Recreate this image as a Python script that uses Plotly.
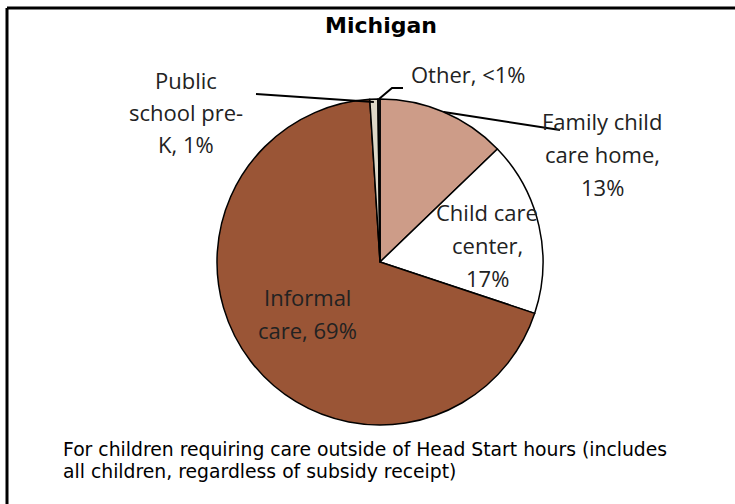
import math
import plotly.graph_objects as go

# ---- data ----
categories = ["Family child care home", "Child care center", "Informal care",
              "Public school pre-K", "Other"]
shares = [12.8, 17.3, 68.9, 0.8, 0.2]
label_lines = {
    "Family child care home": ["Family child", "care home,", "13%"],
    "Child care center": ["Child care", "center,", "17%"],
    "Informal care": ["Informal", "care, 69%"],
    "Public school pre-K": ["Public", "school pre-", "K, 1%"],
    "Other": ["Other, <1%"],
}
colors = ["#CD9C88", "#FFFFFF", "#9A5536", "#DDD7C7", "#3A3A3A"]
title_text = "Michigan"
note_lines = ["For children requiring care outside of Head Start hours (includes",
              "all children, regardless of subsidy receipt)"]

W, H = 735, 504
CX, CY, R = 380, 262, 163  # pie center / radius in pixels


def px(x):
    return x / W


def py(y):
    return 1 - y / H


fig = go.Figure(go.Pie(
    labels=categories, values=shares, sort=False, direction="clockwise",
    rotation=0, marker=dict(colors=colors, line=dict(color="#000000", width=1.5)),
    textinfo="none", hoverinfo="label+percent", showlegend=False,
    domain=dict(x=[px(CX - R), px(CX + R)], y=[py(CY + R), py(CY - R)]),
))

# edge point of each slice at its middle angle (from data)
total = sum(shares)
edge = {}
cum = 0
for c, v in zip(categories, shares):
    th = 2 * math.pi * (cum + v / 2) / total
    edge[c] = (CX + R * math.sin(th), CY - R * math.cos(th))
    cum += v

LABEL_FONT = dict(family="Open Sans", size=22, color="#222222")
label_pos = {  # (center x, first-line middle y, line step)
    "Family child care home": (602, 121, 33),
    "Child care center": (487, 212, 33),
    "Informal care": (307, 297, 33),
    "Public school pre-K": (186, 80, 32),
    "Other": (468, 74, 33),
}
annotations = []
for c in categories:
    x0, y0, step = label_pos[c]
    for i, t in enumerate(label_lines[c]):
        annotations.append(dict(text=t, x=px(x0), y=py(y0 + i * step), xref="paper",
                                yref="paper", showarrow=False, xanchor="center",
                                yanchor="middle", font=LABEL_FONT))

annotations.append(dict(text="<b>%s</b>" % title_text, x=px(381), y=py(25), xref="paper",
                        yref="paper", showarrow=False, xanchor="center", yanchor="middle",
                        font=dict(family="DejaVu Sans", size=22, color="#000000")))
for i, t in enumerate(note_lines):
    annotations.append(dict(text=t, x=px(61), y=py(449 + i * 22), xref="paper",
                            yref="paper", showarrow=False, xanchor="left", yanchor="middle",
                            font=dict(family="DejaVu Sans", size=18.8, color="#000000")))

shapes = []
LINE = dict(color="#000000", width=2)
# frame (top and left edges visible)
shapes.append(dict(type="line", xref="paper", yref="paper", x0=px(7), y0=py(8),
                   x1=1.02, y1=py(8), line=dict(color="#000000", width=3)))
shapes.append(dict(type="line", xref="paper", yref="paper", x0=px(7), y0=py(8),
                   x1=px(7), y1=-0.02, line=dict(color="#000000", width=3)))
# leader lines
ex, ey = edge["Public school pre-K"]
shapes.append(dict(type="line", xref="paper", yref="paper", x0=px(256), y0=py(94),
                   x1=px(ex), y1=py(ey + 3), line=LINE))
ex, ey = edge["Other"]
shapes.append(dict(type="path", xref="paper", yref="paper",
                   path="M %f,%f L %f,%f L %f,%f" % (px(ex), py(ey), px(392), py(88),
                                                      px(403), py(88)), line=LINE))
ex, ey = edge["Family child care home"]
shapes.append(dict(type="line", xref="paper", yref="paper", x0=px(ex), y0=py(ey),
                   x1=px(560), y1=py(130), line=LINE))

fig.update_layout(width=W, height=H, autosize=False,
                  margin=dict(l=0, r=0, t=0, b=0),
                  paper_bgcolor="#FFFFFF", plot_bgcolor="#FFFFFF",
                  annotations=annotations, shapes=shapes)

fig.write_html("out.html", config={"displayModeBar": False},
               post_script="document.body.style.margin='0';document.body.style.padding='0';")
